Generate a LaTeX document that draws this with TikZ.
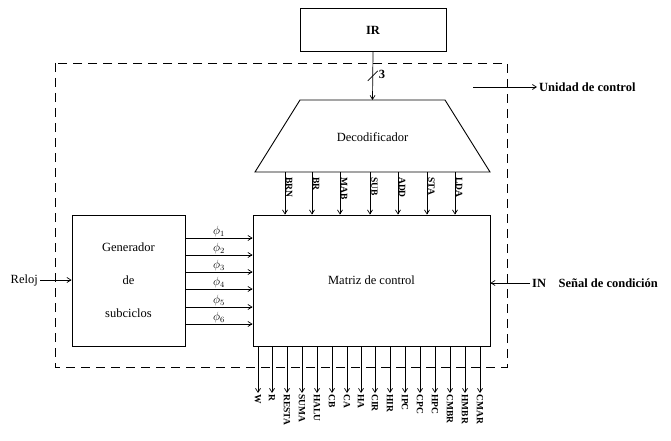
\documentclass[tikz,border=0pt]{standalone}
\usepackage{fontspec}
\setmainfont{Liberation Serif}
\usetikzlibrary{arrows.meta,calc}
\begin{document}
\begin{tikzpicture}[x=1pt,y=-1pt,
  box/.style={draw,line width=0.9pt,inner sep=0pt},
  arr/.style={-{Straight Barb[length=4pt,width=5pt]},line width=0.7pt},
  lbl/.style={font=\fontsize{9.5}{10}\selectfont\bfseries,rotate=-90,inner sep=1pt},
  txt/.style={font=\fontsize{12.5}{14}\selectfont},
  btxt/.style={font=\fontsize{12.5}{14}\selectfont\bfseries}]
\useasboundingbox (0,0) rectangle (671,441);
\draw[line width=0.8pt,dash pattern=on 9pt off 6pt] (55,63) rectangle (507,367);
\node[box,txt,minimum width=146pt,minimum height=43pt] (ir) at (373,30) {\bfseries IR};
% decoder (trapezoid)
\coordinate (decn) at (372.5,100);
\coordinate (decs) at (372.5,172);
\draw[line width=0.9pt] (255,172) -- (300,100) -- (445,100) -- (490,172) -- cycle;
\node[txt] (dec) at (372.5,137) {Decodificador};
\node[box,txt,minimum width=237pt,minimum height=131pt] (mat) at (371.5,280.5) {Matriz de control};
\node[box,font=\fontsize{12.5}{33}\selectfont,align=center,minimum width=113pt,minimum height=131pt] (gen) at (128.5,280.5) {Generador\\de\\subciclos};
% IR -> decoder
\draw[arr] (ir.south) -- (decn);
\coordinate (sl) at ($(ir.south)!0.5!(decn)$);
\draw[line width=0.7pt] ($(sl)+(-5,5)$) -- ($(sl)+(5,-5)$);
\node[btxt,anchor=west,inner sep=1pt] (three) at ($(sl)+(5,-2)$) {3};
% Unidad de control
\coordinate (uc1) at (473,87);
\node[btxt,anchor=west,inner sep=2pt] (uc) at (537,87) {Unidad de control};
\draw[arr] (uc1) -- (uc.west);
% phases
\foreach \i/\y in {1/238,2/255,3/272,4/289,5/307,6/324}{
  \coordinate (p\i) at (0,\y);
  \draw[arr] (gen.east |- p\i) -- (mat.west |- p\i) node[midway,above,inner sep=1pt,font=\large] (ph\i) {$\phi_{\i}$};
}
% Reloj
\node[txt,anchor=east,inner sep=2pt] (rel) at (40,280) {Reloj};
\draw[arr] (rel.east) -- (gen.west |- rel.east);
% IN
\node[btxt,anchor=west,inner sep=2pt] (in) at (530,283) {IN\quad Señal de condición};
\draw[arr] (in.west) -- (mat.east |- in.west);
% decoder outputs
\foreach \x/\l in {285/BRN,312/BR,340/MAB,370/SUB,398/ADD,427/STA,455/LDA}{
  \coordinate (d\l) at (\x,0);
  \draw[arr] (decs -| d\l) -- (mat.north -| d\l);
  \node[lbl,anchor=south west] (dl\l) at ($(decs -| d\l)+(0,4)$) {\l};
}
% control outputs
\foreach \x/\l in {258/W,272/R,287/RESTA,302/SUMA,317/HALU,332/CB,347/CA,361/HA,375/CIR,390/HIR,405/IPC,420/CPC,435/HPC,450/CMBR,465/HMBR,480/CMAR}{
  \coordinate (b\l) at (\x,393);
  \draw[arr] (mat.south -| b\l) -- (b\l) node[lbl,anchor=west] (bl\l) {\l};
}
\end{tikzpicture}
\end{document}
